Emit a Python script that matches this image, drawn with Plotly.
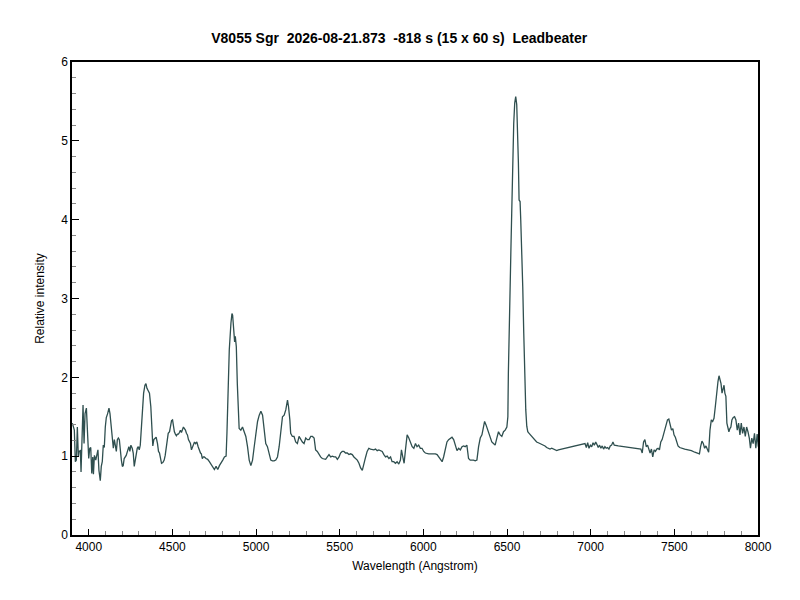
import plotly.graph_objects as go

# spectrum (Angstrom, relative intensity)
wavelength = [
    3902, 3914, 3920, 3926, 3932, 3938, 3942, 3950, 3954, 3958, 3966, 3972, 3978, 3986, 3992,
    4000, 4006, 4012, 4018, 4024, 4028, 4034, 4042, 4050, 4055, 4061, 4069, 4075, 4081, 4087,
    4093, 4099, 4105, 4113, 4121, 4127, 4135, 4141, 4147, 4153, 4159, 4165, 4171, 4177, 4183,
    4189, 4195, 4201, 4206, 4212, 4218, 4224, 4234, 4240, 4246, 4252, 4260, 4266, 4272, 4278,
    4284, 4290, 4296, 4302, 4308, 4314, 4320, 4328, 4336, 4342, 4348, 4355, 4363, 4371, 4377,
    4383, 4389, 4397, 4403, 4411, 4417, 4423, 4429, 4435, 4443, 4451, 4457, 4463, 4469, 4475,
    4483, 4489, 4495, 4501, 4507, 4512, 4518, 4524, 4530, 4536, 4542, 4548, 4554, 4560, 4566,
    4572, 4578, 4584, 4590, 4596, 4602, 4608, 4614, 4620, 4626, 4632, 4638, 4646, 4654, 4662,
    4668, 4673, 4679, 4685, 4691, 4701, 4711, 4721, 4731, 4741, 4751, 4761, 4771, 4781, 4791,
    4801, 4811, 4821,
    4826, 4832, 4840, 4850, 4856, 4860, 4866, 4872, 4876, 4882, 4888, 4893, 4899, 4909, 4919,
    4929, 4939, 4949, 4959, 4969, 4979, 4989, 4999, 5009, 5019, 5029, 5039, 5048, 5058, 5068,
    5078, 5088, 5098, 5108, 5118, 5128, 5138, 5148, 5158, 5168, 5178, 5188, 5194, 5202, 5207,
    5217, 5227, 5237, 5247, 5257, 5267, 5277, 5287, 5297, 5307, 5317, 5327, 5337, 5347, 5356,
    5366, 5376, 5386, 5396, 5406, 5416, 5426, 5436, 5446, 5456, 5466, 5476, 5486, 5496, 5505,
    5515, 5525, 5535, 5545, 5555, 5565, 5575, 5585, 5595, 5605, 5615, 5625, 5635, 5645, 5655,
    5664, 5674, 5684, 5694, 5704, 5714, 5724, 5734, 5744, 5754, 5764, 5774, 5784, 5794, 5804,
    5813, 5823, 5833, 5843, 5853, 5863, 5869, 5877, 5885, 5893, 5903, 5913, 5923, 5933, 5943,
    5953, 5962, 5972, 5982, 5992, 6002, 6012, 6032, 6052, 6072, 6082, 6092, 6102, 6112, 6121,
    6131, 6141, 6151,
    6161, 6171, 6181, 6191, 6201, 6211, 6221, 6231, 6240, 6250, 6260, 6270, 6280, 6290, 6300,
    6310, 6320, 6330, 6340, 6350, 6360, 6366, 6374, 6382, 6389, 6399, 6409, 6419, 6429, 6439,
    6449, 6459, 6469, 6479, 6489, 6499, 6505,
    6508, 6512, 6516, 6520, 6524, 6528, 6532, 6536, 6540, 6546, 6552, 6558, 6564, 6568, 6572,
    6578, 6582, 6588, 6594, 6600, 6606, 6612, 6618, 6624, 6632, 6640, 6648, 6657, 6667, 6677,
    6687, 6697, 6707, 6717, 6727, 6737, 6747, 6757, 6767, 6777, 6787, 6797, 6807,
    6827, 6847, 6867, 6886, 6906, 6926, 6946, 6966, 6974, 6982, 6990, 6998, 7006, 7014, 7022,
    7030, 7037, 7045, 7053, 7061, 7069, 7077, 7085, 7093, 7101, 7109, 7117, 7125, 7133, 7141,
    7165, 7204, 7244, 7284, 7300, 7308, 7316, 7324, 7332, 7340, 7347, 7355, 7363, 7371, 7379,
    7387, 7395, 7403, 7411, 7419, 7427, 7435, 7443, 7451, 7459, 7467, 7475, 7483, 7491, 7498,
    7506, 7514, 7522, 7532, 7542, 7562, 7582, 7602, 7622, 7642, 7650, 7657, 7665, 7673, 7681,
    7689, 7697, 7705, 7713, 7721, 7729, 7737, 7745, 7753, 7761, 7767, 7773, 7779, 7785, 7791,
    7797, 7802, 7808, 7814, 7820, 7826, 7832, 7838, 7844, 7852, 7860, 7868, 7876, 7884, 7892,
    7900, 7908, 7916, 7924, 7932, 7940, 7948, 7955, 7963, 7971, 7979, 7987, 7995, 8002,
]
intensity = [
    1.42, 1.33, 0.93, 0.95, 1.37, 0.99, 1.06, 1.07, 0.80, 1.04, 1.65, 1.16, 1.54, 1.61, 1.25,
    0.97, 1.10, 1.11, 0.78, 0.99, 0.77, 1.01, 0.95, 1.04, 1.08, 0.82, 0.69, 0.87, 0.93, 1.14,
    1.11, 1.37, 1.49, 1.54, 1.61, 1.54, 1.37, 1.21, 1.10, 1.21, 1.12, 1.06, 1.21, 1.23, 1.21,
    1.04, 0.95, 0.87, 0.88, 0.97, 0.99, 1.01, 1.08, 1.12, 1.06, 1.14, 1.10, 1.04, 0.87, 0.97,
    1.01, 1.10, 1.12, 1.08, 1.14, 1.37, 1.63, 1.80, 1.90, 1.92, 1.86, 1.82, 1.80, 1.63, 1.37,
    1.13, 1.21, 1.23, 1.24, 1.16, 1.06, 1.04, 0.95, 0.91, 0.92, 0.95, 1.01, 1.12, 1.25, 1.29,
    1.31, 1.37, 1.45, 1.46, 1.37, 1.31, 1.28, 1.26, 1.28, 1.28, 1.30, 1.33, 1.30, 1.33, 1.37,
    1.35, 1.33, 1.29, 1.27, 1.21, 1.18, 1.16, 1.08, 1.12, 1.14, 1.18, 1.16, 1.18, 1.12, 1.06,
    1.04, 1.03, 0.97, 0.99, 0.99, 0.97, 0.96, 0.93, 0.89, 0.86, 0.83, 0.87, 0.83, 0.88, 0.91,
    0.95, 0.99, 1.00,
    1.29, 1.92, 2.35, 2.69, 2.81, 2.79, 2.56, 2.45, 2.52, 2.39, 1.92, 1.59, 1.35, 1.33, 1.37,
    1.31, 1.25, 1.12, 0.95, 0.88, 0.95, 1.12, 1.29, 1.44, 1.52, 1.57, 1.52, 1.37, 1.16, 1.12,
    1.04, 0.95, 0.94, 0.94, 0.95, 0.99, 1.12, 1.29, 1.50, 1.52, 1.59, 1.71, 1.63, 1.46, 1.29,
    1.25, 1.25, 1.18, 1.16, 1.25, 1.21, 1.18, 1.16, 1.23, 1.21, 1.21, 1.25, 1.25, 1.23, 1.08,
    1.06, 1.02, 0.99, 0.97, 0.96, 0.96, 0.99, 1.02, 0.99, 1.00, 0.99, 0.99, 0.96, 0.99, 1.04,
    1.06, 1.06, 1.04, 1.04, 1.02, 1.03, 1.02, 0.99, 0.97, 0.95, 0.91, 0.85, 0.82, 0.89, 0.99,
    1.06, 1.10, 1.09, 1.08, 1.08, 1.09, 1.07, 1.08, 1.07, 1.06, 1.02, 0.99, 1.00, 0.97, 0.99,
    0.93, 0.93, 0.91, 0.93, 0.90, 0.95, 1.08, 0.99, 0.91, 1.08, 1.27, 1.23, 1.18, 1.12, 1.10,
    1.16, 1.12, 1.14, 1.10, 1.10, 1.06, 1.04, 1.03, 1.03, 1.03, 1.02, 0.99, 0.95, 0.93, 0.99,
    1.08, 1.18, 1.21,
    1.23, 1.24, 1.21, 1.12, 1.07, 1.10, 1.08, 1.12, 1.13, 1.12, 1.14, 0.97, 0.95, 0.95, 0.95,
    0.94, 0.95, 1.12, 1.23, 1.27, 1.37, 1.44, 1.40, 1.35, 1.29, 1.25, 1.18, 1.16, 1.14, 1.23,
    1.31, 1.27, 1.25, 1.31, 1.33, 1.37, 1.50,
    2.05, 2.56, 3.15, 3.62, 3.70, 4.08, 4.50, 4.93, 5.22, 5.48, 5.56, 5.46, 5.14, 4.72, 4.25,
    4.23, 4.00, 3.66, 3.15, 2.56, 2.01, 1.59, 1.38, 1.31, 1.29, 1.27, 1.25, 1.23, 1.21, 1.18,
    1.17, 1.16, 1.16, 1.14, 1.13, 1.11, 1.10, 1.09, 1.10, 1.09, 1.08, 1.07, 1.08,
    1.09, 1.10, 1.11, 1.12, 1.13, 1.14, 1.15, 1.16, 1.11, 1.17, 1.10, 1.14, 1.12, 1.17, 1.14,
    1.18, 1.15, 1.11, 1.14, 1.10, 1.13, 1.09, 1.12, 1.10, 1.11, 1.09, 1.13, 1.14, 1.18, 1.14,
    1.13, 1.12, 1.11, 1.10, 1.09, 1.04, 1.18, 1.21, 1.12, 1.14, 1.08, 1.04, 1.09, 0.99, 1.08,
    1.06, 1.09, 1.10, 1.08, 1.18, 1.21, 1.28, 1.35, 1.42, 1.46, 1.47, 1.40, 1.33, 1.35, 1.27,
    1.24, 1.18, 1.13, 1.11, 1.10, 1.09, 1.08, 1.07, 1.05, 1.04, 1.03, 1.12, 1.19, 1.16, 1.10,
    1.13, 1.08, 1.05, 1.33, 1.46, 1.44, 1.48, 1.63, 1.82, 1.95, 2.02, 1.97, 1.92, 1.80, 1.86,
    1.90, 1.80, 1.76, 1.42, 1.37, 1.31, 1.35, 1.37, 1.46, 1.49, 1.50, 1.46, 1.33, 1.42, 1.27,
    1.42, 1.29, 1.37, 1.25, 1.37, 1.31, 1.23, 1.10, 1.23, 1.16, 1.29, 1.10, 1.28, 1.12,
]

title_text = "V8055 Sgr  2026-08-21.873  -818 s (15 x 60 s)  Leadbeater"

fig = go.Figure()
fig.add_trace(go.Scatter(
    x=wavelength,
    y=intensity,
    mode='lines',
    line=dict(color='#2F4F4F', width=1.3),
    showlegend=False,
))

axis_font = dict(family='Liberation Sans, Arial, sans-serif', size=12, color='black')

# the page puts the figure 8px in from the top-left corner, margins allow for that
fig.update_layout(
    width=800,
    height=600,
    paper_bgcolor='white',
    plot_bgcolor='white',
    margin=dict(l=64, r=50, t=54, b=73),
    title=dict(
        text='<b>' + title_text + '</b>',
        x=0.489, xanchor='center',
        y=0.95, yanchor='middle',
        font=dict(family='Liberation Sans, Arial, sans-serif', size=14, color='black'),
    ),
    xaxis=dict(
        range=[3900, 8000],
        tickmode='linear', tick0=4000, dtick=500,
        ticks='inside', ticklen=6, tickcolor='black',
        minor=dict(ticks='inside', ticklen=4, dtick=100, tickcolor='#888888'),
        showline=True, linecolor='black', linewidth=1.5, mirror=True,
        showgrid=False, zeroline=False,
        tickfont=axis_font,
        title=dict(text='Wavelength (Angstrom)', font=axis_font, standoff=8),
    ),
    yaxis=dict(
        range=[0, 6],
        tickmode='linear', tick0=0, dtick=1,
        ticks='inside', ticklen=7, tickcolor='black',
        minor=dict(ticks='inside', ticklen=4, dtick=0.2, tickcolor='#888888'),
        showline=True, linecolor='black', linewidth=1.5, mirror=True,
        showgrid=False, zeroline=False,
        tickfont=axis_font,
        title=dict(text='Relative intensity', font=axis_font, standoff=14),
    ),
)

fig.write_html("out.html")
